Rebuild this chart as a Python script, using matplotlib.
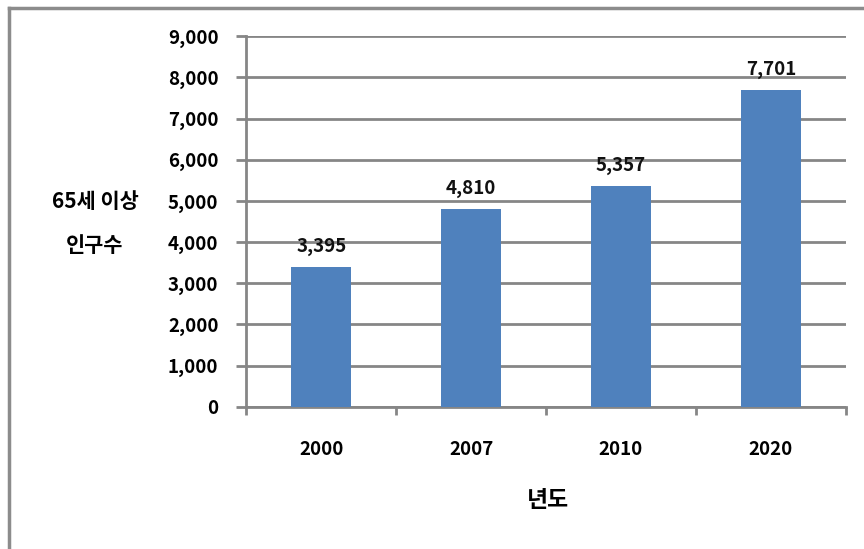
import matplotlib
matplotlib.use("Agg")
import matplotlib.pyplot as plt
from matplotlib.lines import Line2D
import numpy as np

plt.rcParams['font.family'] = ['Noto Sans CJK KR', 'DejaVu Sans']

# 연도별 65세 이상 인구수 (천 명)
years = ['2000', '2007', '2010', '2020']
population = [3395, 4810, 5357, 7701]
yticks = [0, 1000, 2000, 3000, 4000, 5000, 6000, 7000, 8000, 9000]

bar_color = '#4F81BD'
grid_color = '#868686'

fig = plt.figure(figsize=(8.64, 5.49), dpi=100)
ax = fig.add_axes([0.285, 0.259, 0.694, 0.675])

x = np.arange(len(years))
ax.bar(x, population, width=0.4, color=bar_color, zorder=3)

for xi, v in zip(x, population):
    ax.annotate(f'{v:,}', (xi, v), xytext=(0, 8), textcoords='offset points',
                ha='center', va='bottom', fontsize=13.5, fontweight='bold',
                color='#111111', zorder=4)

ax.set_xlim(-0.5, len(years) - 0.5)
ax.set_ylim(0, 9000)
ax.set_yticks(yticks)
ax.set_yticklabels([f'{t:,}' for t in yticks], fontsize=13.5, fontweight='bold')
ax.set_xticks(x)
ax.set_xticklabels(years, fontsize=13.5, fontweight='bold')
ax.set_xticks(np.arange(len(years) + 1) - 0.5, minor=True)

ax.grid(axis='y', color=grid_color, linewidth=2, zorder=1)
ax.tick_params(axis='y', length=7, width=2, color=grid_color, pad=13)
ax.tick_params(axis='x', which='major', length=0, pad=24)
ax.tick_params(axis='x', which='minor', length=6, width=2, color=grid_color)

for side in ['top', 'right']:
    ax.spines[side].set_visible(False)
for side in ['left', 'bottom']:
    ax.spines[side].set_color(grid_color)
    ax.spines[side].set_linewidth(2)

fig.text(0.11, 0.633, '65세 이상', ha='center', va='center',
         fontsize=15, fontweight='bold')
fig.text(0.11, 0.553, '인구수', ha='center', va='center',
         fontsize=15, fontweight='bold')
fig.text(0.634, 0.088, '년도', ha='center', va='center',
         fontsize=16.5, fontweight='bold')

# 바깥 테두리 (왼쪽, 위쪽)
fig.add_artist(Line2D([0.0105, 0.0105], [0.0, 0.985], transform=fig.transFigure,
                      color='#8c8c8c', linewidth=2.5))
fig.add_artist(Line2D([0.0105, 1.0], [0.985, 0.985], transform=fig.transFigure,
                      color='#8c8c8c', linewidth=2.5))

fig.savefig('out.png', dpi=100)
